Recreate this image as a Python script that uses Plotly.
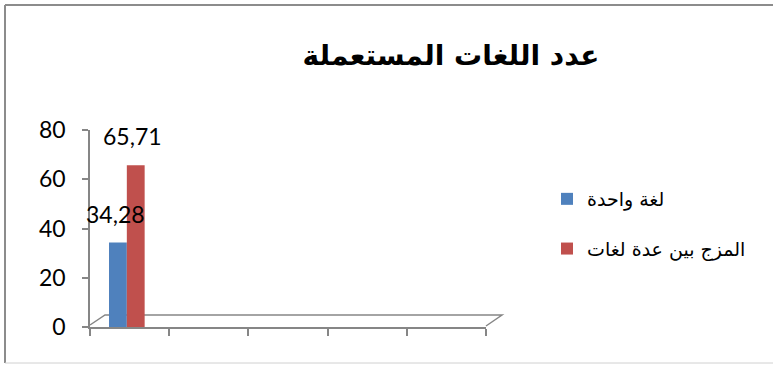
import plotly.graph_objects as go

categories = ["c1", "c2", "c3", "c4", "c5"]
series_names = ["لغة واحدة", "المزج بين عدة لغات"]
series_values = [
    [34.28, None, None, None, None],
    [65.71, None, None, None, None],
]
colors = ["#4F81BD", "#C0504D"]
y_ticks = [0, 20, 40, 60, 80]
title_text = "عدد اللغات المستعملة"

W, H = 773, 365
L, R, T, B = 90, 287, 130, 38  # plot area px: x 90..486, y 130..327
pw, ph = W - L - R, H - T - B


def px_x(p):
    return (p - L) / pw


def px_y(p):
    return (H - B - p) / ph


fig = go.Figure()
offsets = [-0.26, -0.035]
label_shift = [-14, 3]
for i, name in enumerate(series_names):
    fig.add_trace(go.Bar(
        x=categories, y=series_values[i], name=name,
        marker=dict(color=colors[i], line=dict(width=0)),
        width=0.225, offset=offsets[i],
        legendgroup=f"g{i}",
    ))
    for c, v in zip(categories, series_values[i]):
        if v is not None:
            fig.add_annotation(
                x=c, y=v, text=f"{v:.2f}".replace(".", ","), showarrow=False,
                xshift=label_shift[i], yshift=29, yanchor="middle",
                font=dict(family="Lato, Carlito, Arial", size=23, color="#000"),
            )

axis_col = "#868686"
fig.update_layout(
    width=W, height=H,
    margin=dict(l=L, r=R, t=T, b=B),
    paper_bgcolor="white", plot_bgcolor="rgba(0,0,0,0)",
    barmode="group",
    showlegend=True,
    title=dict(text=f"<b>{title_text}</b>", x=451 / W, xanchor="center",
               y=1 - 55 / H, yanchor="middle",
               font=dict(family="DejaVu Sans, Arial", size=28, color="#000")),
    legend=dict(x=px_x(547), xanchor="left", y=px_y(180), yanchor="top",
                font=dict(family="DejaVu Sans, Arial", size=19, color="#000"),
                tracegroupgap=22, bgcolor="rgba(0,0,0,0)"),
    xaxis=dict(type="category", categoryorder="array", categoryarray=categories,
               range=[-0.5, 4.5], showticklabels=False, showgrid=False,
               showline=True, linecolor=axis_col, linewidth=1.5,
               ticks="outside", ticklen=7, tickcolor=axis_col, tickwidth=1.5,
               tickson="boundaries", zeroline=False, fixedrange=True),
    yaxis=dict(range=[0, 80], tickvals=y_ticks, showgrid=False,
               showline=True, linecolor=axis_col, linewidth=1.5,
               ticks="outside", ticklen=6, tickcolor=axis_col, tickwidth=1.5,
               ticklabelstandoff=12, zeroline=False,
               tickfont=dict(family="Lato, Carlito, Arial", size=23, color="#000")),
)

# 3D floor outline (decoration)
fig.add_shape(type="path", xref="paper", yref="paper",
              path=f"M 0 {px_y(325)} L {px_x(105)} {px_y(315)} L {px_x(502)} {px_y(315)} L 1 {px_y(326)}",
              line=dict(color=axis_col, width=1.5), layer="below")
# chart border (decoration)
fig.add_shape(type="line", xref="paper", yref="paper",
              x0=px_x(5), x1=px_x(773), y0=px_y(5), y1=px_y(5),
              line=dict(color="#8c8c8c", width=2))
fig.add_shape(type="line", xref="paper", yref="paper",
              x0=px_x(5), x1=px_x(5), y0=px_y(5), y1=px_y(363),
              line=dict(color="#8c8c8c", width=2))
fig.add_shape(type="line", xref="paper", yref="paper",
              x0=px_x(5), x1=px_x(773), y0=px_y(363), y1=px_y(363),
              line=dict(color="#d0d0d0", width=1))

fig.write_html("out.html")
